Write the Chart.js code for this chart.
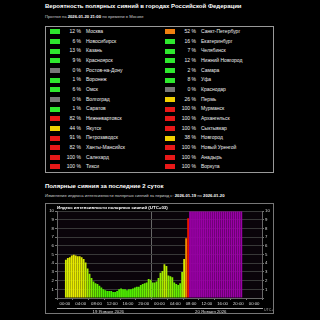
<!DOCTYPE html>
<html>
<head>
<meta charset="utf-8">
<script src="https://cdn.jsdelivr.net/npm/chart.js@4.4.1/dist/chart.umd.min.js"></script>
<style>
body{margin:0;background:#000;width:320px;height:320px;overflow:hidden;position:relative;font-family:"Liberation Sans",Arial,sans-serif;color:#fff}
.txt{position:absolute;left:45px;white-space:nowrap;line-height:1}
.h{font-weight:bold;font-size:6px;color:#fff}
.s{font-size:4.2px;color:#ccc}
.s b{color:#fff}
#tbl{position:absolute;left:45px;top:26px;width:229px;height:147px;border:1px solid #999;box-sizing:border-box}
.row{position:absolute;left:0;height:9.64px;width:100%;font-size:5px;line-height:9.64px;color:#eee}
.sw{position:absolute;top:2.3px;width:10px;height:5px}
.pc{position:absolute;width:20px;text-align:right}
.nm{position:absolute;white-space:nowrap}
#box{position:absolute;left:45px;top:203px;width:229px;height:111px;border:1px solid #777;box-sizing:border-box}
</style>
</head>
<body>
<div class="txt h" style="top:3px">Вероятность полярных сияний в городах Российской Федерации</div>
<div class="txt s" style="top:15px">Прогноз на <b>2026-01-20 21:00</b> по времени в Москве</div>
<div id="tbl"></div>
<div class="txt h" style="top:183px">Полярные сияния за последние 2 суток</div>
<div class="txt s" style="top:194px">Изменение индекса интенсивности полярных сияний за период с: <b>2026-01-19</b> по <b>2026-01-20</b></div>
<div id="box"><canvas id="canvas" width="227" height="109"></canvas></div>
<script>
// города, левая колонка
var leftCities = ["Москва","Новосибирск","Казань","Красноярск","Ростов-на-Дону","Воронеж","Омск","Волгоград","Саратов","Нижневартовск","Якутск","Петрозаводск","Ханты-Мансийск","Салехард","Тикси"];
var leftPct = [12,6,13,9,0,1,6,0,1,82,44,91,82,100,100];
// правая колонка
var rightCities = ["Санкт-Петербург","Екатеринбург","Челябинск","Нижний Новгород","Самара","Уфа","Краснодар","Пермь","Мурманск","Архангельск","Сыктывкар","Новгород","Новый Уренгой","Анадырь","Воркута"];
var rightPct = [52,16,7,12,2,8,0,26,100,100,100,38,100,100,100];

// индекс по 30 минут
var day1Values = [4.4,4.6,4.7,4.9,5.0,4.9,4.8,4.8,4.7,4.5,4.1,3.4,2.8,2.3,1.9,1.7,1.6,1.4,1.2,1.0,0.9,0.8,0.8,0.8,
                  0.7,0.7,0.8,1.0,1.1,1.0,1.0,0.9,1.0,1.0,1.1,1.2,1.3,1.3,1.5,1.6,1.7,1.8,2.2,2.1,1.8,1.8,1.9,2.3];
var day2Values = [2.9,3.1,3.9,3.7,2.6,2.5,2.4,1.8,1.6,1.5,1.7,3.0,4.5,6.9,9.2,
                  10,10,10,10,10,10,10,10,10,10,10,10,10,10,10,10,10,10,10,10,10,10,10,10,10,10,10];
var dayLabels = ["19 Января 2026","20 Января 2026"];
var hourTicks = ["00:00","04:00","08:00","12:00","16:00","20:00"];

function pctColor(p){
    if(p == 0) return '#777777';
    if(p < 20) return '#2ee82e';
    if(p < 50) return '#f0d000';
    if(p < 80) return '#f08010';
    return '#e81818';
}

var tbl = document.getElementById('tbl');
function addRow(i, cities, pct, sx, px, nx){
    var r = document.createElement('div');
    r.className = 'row';
    r.style.top = (0.2 + i*9.64) + 'px';
    r.innerHTML = '<div class="sw" style="left:'+sx+'px;background:'+pctColor(pct[i])+'"></div>'+
        '<div class="pc" style="left:'+px+'px">'+pct[i]+' %</div>'+
        '<div class="nm" style="left:'+nx+'px">'+cities[i]+'</div>';
    tbl.appendChild(r);
}
for(var i=0;i<leftCities.length;i++){
    addRow(i, leftCities, leftPct, 4, 15, 40);
    addRow(i, rightCities, rightPct, 119, 130, 155);
}

function barColor(v){
    if(v >= 9.9) return '#9a00a6';
    var h;
    if(v <= 5) h = 110 - v*10;
    else h = 60 - (v-5)*13;
    if(h < 2) h = 2;
    return 'hsl('+h+',100%,46%)';
}

var values = day1Values.concat(day2Values);
var points = values.map(function(v,i){ return {x: i*0.5+0.25, y: v}; });

var bgPlugin = {
    id: 'bg',
    beforeDraw: function(chart){
        var a = chart.chartArea, c = chart.ctx;
        c.save();
        c.fillStyle = '#0a040a';
        c.fillRect(a.left, a.top, a.right-a.left, a.bottom-a.top);
        c.restore();
    },
    afterDraw: function(chart){
        var c = chart.ctx;
        c.save();
        c.fillStyle = '#aaa';
        c.font = '3.5px "Liberation Sans"';
        c.textAlign = 'left';
        c.fillText('UTC+3', 218, 107);
        c.restore();
    }
};

var tickFont = {family:'"Liberation Sans"', size:4.3};

var ctx = document.getElementById('canvas');
var myChart = new Chart(ctx, {
    type: 'bar',
    data: {
        datasets: [{
            data: points,
            backgroundColor: values.map(barColor),
            borderWidth: 0,
            barPercentage: 0.93,
            categoryPercentage: 1
        }]
    },
    options: {
        responsive: false,
        devicePixelRatio: 1,
        animation: false,
        layout: {padding: 0},
        plugins: {
            legend: {display: false},
            tooltip: {enabled: false},
            title: {
                display: true,
                text: 'Индекс интенсивности полярных сияний (UTC+03)',
                color: '#fff',
                align: 'start',
                fullSize: false,
                font: {family:'"Liberation Sans"', size: 4.4, weight: 'bold'},
                padding: {top: 1, bottom: 1}
            }
        },
        scales: {
            x: {
                type: 'linear', min: 0, max: 48,
                ticks: {
                    stepSize: 4, color: '#ddd', font: tickFont, padding: 1, maxRotation: 0, autoSkip: false,
                    callback: function(v){ return hourTicks[(v % 24)/4]; }
                },
                grid: {
                    color: function(c){ return c.tick && c.tick.value === 24 ? '#666' : 'rgba(0,0,0,0)'; },
                    tickLength: 2, tickColor: '#777'
                },
                border: {color: '#666'},
                afterFit: function(s){ s.height = 10; }
            },
            x2: {
                type: 'category', labels: dayLabels, position: 'bottom', offset: true,
                grid: {display: false, drawTicks: false},
                border: {display: true, color: '#aaa'},
                ticks: {color: '#ddd', font: tickFont, padding: 1},
                afterFit: function(s){ s.height = 5; }
            },
            y: {
                min: 0, max: 10,
                ticks: {stepSize: 1, color: '#ddd', font: tickFont, padding: 1,
                    callback: function(v){ return v === 0 ? '' : v; }},
                grid: {color: '#383838', tickLength: 2, tickColor: '#777'},
                border: {color: '#666'},
                afterFit: function(s){ s.width = 11; }
            },
            yR: {
                position: 'right', min: 0, max: 10,
                ticks: {stepSize: 1, color: '#ddd', font: tickFont, padding: 1,
                    callback: function(v){ return v === 0 ? '' : v; }},
                grid: {drawOnChartArea: false, tickLength: 2, tickColor: '#777'},
                border: {color: '#666'},
                afterFit: function(s){ s.width = 11; }
            }
        }
    },
    plugins: [bgPlugin]
});
</script>
</body>
</html>
